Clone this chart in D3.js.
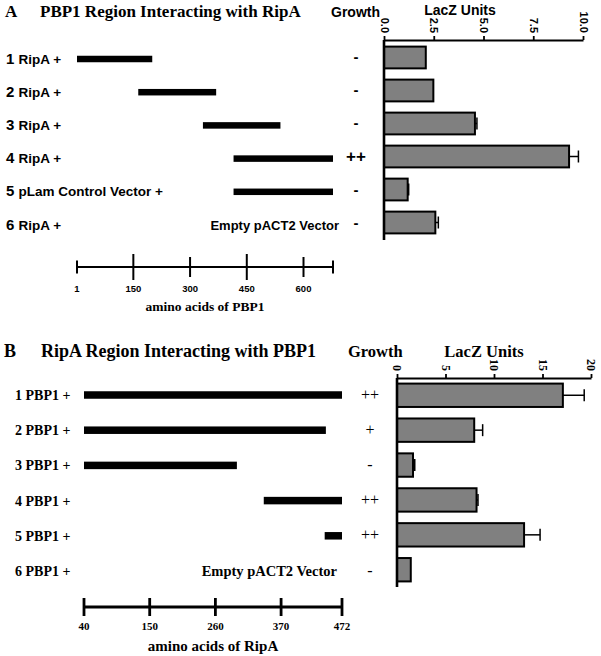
<!DOCTYPE html>
<html><head><meta charset="utf-8">
<script src="https://cdn.jsdelivr.net/npm/d3@7"></script>
<style>body{margin:0;background:#fff}svg{display:block}</style>
</head><body>
<svg id="c" width="601" height="656"></svg>
<script>
// ---- Panel A data ----
const rowNumA = ["1","2","3","4","5","6"];
const rowLabelA = ["RipA +","RipA +","RipA +","RipA +","pLam Control Vector +","RipA +"];
const segStartA = [1,163,334,415,415,null];
const segEndA = [200,369,539,678,678,null];
const growthA = ["-","-","-","++","-","-"];
const lacZA = [2.1,2.48,4.57,9.3,1.19,2.58];
const lacZErrA = [0,0,0.1,0.47,0.05,0.15];
const aaTicksA = [1,150,300,450,600,678];
const aaTickLabelsA = ["1","150","300","450","600",""];
const lacZTicksA = [0,2.5,5,7.5,10];
const lacZTickLabelsA = ["0.0","2.5","5.0","7.5","10.0"];
// ---- Panel B data ----
const rowNumB = ["1","2","3","4","5","6"];
const rowLabelB = ["PBP1 +","PBP1 +","PBP1 +","PBP1 +","PBP1 +","PBP1 +"];
const segStartB = [40,40,40,341,443,null];
const segEndB = [472,445,296,472,472,null];
const growthB = ["++","+","-","++","++","-"];
const lacZB = [17.1,7.96,1.65,8.2,13.1,1.42];
const lacZErrB = [2.2,0.87,0.18,0.15,1.65,0];
const aaTicksB = [40,150,260,370,472];
const lacZTicksB = [0,5,10,15,20];

const svg = d3.select("#c");
const SANS = "'Liberation Sans', Arial, sans-serif";
const SERIF = "'Liberation Serif', 'Times New Roman', serif";

function panel(o){
  const g = svg.append("g");
  // headings
  g.append("text").attr("x",o.letterX).attr("y",o.headY).attr("font-family",SERIF).attr("font-weight","bold").attr("font-size",o.titleSize).text(o.letter);
  g.append("text").attr("x",o.titleX).attr("y",o.headY).attr("font-family",SERIF).attr("font-weight","bold").attr("font-size",o.titleSize).text(o.title);
  g.append("text").attr("x",o.growthX).attr("y",o.headY).attr("font-family",o.headFont).attr("font-weight","bold").attr("font-size",o.headSize).text("Growth");
  g.append("text").attr("x",o.lacZTitleX).attr("y",o.lacZTitleY).attr("text-anchor","middle").attr("font-family",o.headFont).attr("font-weight","bold").attr("font-size",o.headSize).text("LacZ Units");

  const rows = d3.scalePoint().domain(o.rowNum).range(o.rowRange);
  const aa = d3.scaleLinear().domain(o.aaDomain).range(o.aaRange);

  // row labels
  o.rowNum.forEach((n,i)=>{
    const t = g.append("text").attr("x",o.labelX).attr("y",rows(n)+o.labelDy)
      .attr("font-family",o.rowFont).attr("font-weight","bold").attr("font-size",o.rowSize);
    t.append("tspan").attr("font-size",o.numSize).text(n+" ");
    t.append("tspan").text(o.rowLabel[i]);
  });
  // segments
  o.rowNum.forEach((n,i)=>{
    if(o.segStart[i]==null){
      g.append("text").attr("x",o.emptyX).attr("y",rows(n)+o.labelDy).attr("text-anchor","end")
        .attr("font-family",o.rowFont).attr("font-weight","bold").attr("font-size",o.emptySize).text("Empty pACT2 Vector");
      return;
    }
    g.append("rect").attr("x",aa(o.segStart[i])).attr("width",aa(o.segEnd[i])-aa(o.segStart[i]))
      .attr("y",rows(n)-o.segH/2).attr("height",o.segH).attr("fill","#000");
  });
  // growth
  o.rowNum.forEach((n,i)=>{
    g.append("text").attr("x",o.growthMarkX).attr("y",rows(n)+o.growthDy).attr("text-anchor","middle")
      .attr("font-family",o.growthFont).attr("font-weight",o.growthWeight).attr("font-size",o.growth[i]==="-"?o.minusSize:o.plusSize).text(o.growth[i]);
  });
  // amino acid axis
  g.append("line").attr("x1",aa(o.aaDomain[0])).attr("x2",aa(o.aaDomain[1])).attr("y1",o.aaAxisY).attr("y2",o.aaAxisY)
    .attr("stroke","#000").attr("stroke-width",o.aaStroke);
  o.aaTicks.forEach((v,i)=>{
    const h = o.tickLen(v,i);
    g.append("line").attr("x1",aa(v)).attr("x2",aa(v)).attr("y1",o.aaAxisY-h).attr("y2",o.aaAxisY+h)
      .attr("stroke","#000").attr("stroke-width",o.aaStroke);
    g.append("text").attr("x",aa(v)).attr("y",o.aaLabelY).attr("text-anchor","middle")
      .attr("font-family",o.rowFont).attr("font-weight","bold").attr("font-size",o.aaLabelSize).text(o.aaTickLabels[i]);
  });
  g.append("text").attr("x",(o.aaRange[0]+o.aaRange[1])/2).attr("y",o.aaTitleY).attr("text-anchor","middle")
    .attr("font-family",SERIF).attr("font-weight","bold").attr("font-size",o.aaTitleSize).text(o.aaTitle);

  // bar chart
  const x = d3.scaleLinear().domain([0,o.lacZTicks[o.lacZTicks.length-1]]).range(o.barXRange);
  const y = d3.scaleBand().domain(o.rowNum).range(o.barYRange).paddingInner(o.padIn).paddingOuter(o.padOut);
  const ax = g.append("g").attr("transform",`translate(0,${o.barYRange[0]})`)
    .call(d3.axisTop(x).tickValues(o.lacZTicks).tickFormat((d,i)=>o.lacZTickLabels[i]).tickSize(4).tickSizeOuter(0));
  ax.select(".domain").attr("stroke-width",2.2);
  ax.selectAll(".tick line").attr("stroke-width",1.8);
  ax.selectAll(".tick text").attr("transform","rotate(90)").attr("x",-7).attr("y",0).attr("dy","0.35em")
    .attr("text-anchor","end").attr("font-family",o.tickFont).attr("font-weight","bold").attr("font-size",o.tickSize).attr("fill","#000");
  g.selectAll(null).data(o.rowNum).enter().append("rect")
    .attr("x",x(0)).attr("y",d=>y(d)).attr("height",y.bandwidth())
    .attr("width",(d,i)=>x(o.lacZ[i])-x(0))
    .attr("fill","#808080").attr("stroke","#000").attr("stroke-width",2);
  o.rowNum.forEach((n,i)=>{
    if(!o.lacZErr[i]) return;
    const cy = y(n)+y.bandwidth()/2, x1 = x(o.lacZ[i]), x2 = x(o.lacZ[i]+o.lacZErr[i]);
    g.append("line").attr("x1",x1).attr("x2",x2).attr("y1",cy).attr("y2",cy).attr("stroke","#000").attr("stroke-width",1.5);
    g.append("line").attr("x1",x2).attr("x2",x2).attr("y1",cy-6).attr("y2",cy+6).attr("stroke","#000").attr("stroke-width",1.5);
  });
  g.append("line").attr("x1",x(0)).attr("x2",x(0)).attr("y1",o.barYRange[0]).attr("y2",o.barYRange[1])
    .attr("stroke","#000").attr("stroke-width",2.6);
}

panel({
  letter:"A", letterX:5, title:"PBP1 Region Interacting with RipA", titleX:40, headY:17, titleSize:17,
  growthX:331, headFont:SANS, headSize:14, lacZTitleX:460, lacZTitleY:15,
  rowNum:rowNumA, rowLabel:rowLabelA, rowRange:[59,225], labelX:6, labelDy:4.5, rowFont:SANS, rowSize:13.5, numSize:15,
  segStart:segStartA, segEnd:segEndA, segH:6.5, emptyX:339, emptySize:13,
  aaDomain:[1,678], aaRange:[77,333],
  growth:growthA, growthMarkX:356, growthDy:3, growthFont:SANS, growthWeight:"bold", minusSize:15, plusSize:17,
  aaAxisY:267, aaStroke:2, aaTicks:aaTicksA, aaTickLabels:aaTickLabelsA,
  tickLen:(v,i)=> (v===150||v===450)?13:((v===300||v===600)?10:6.5),
  aaLabelY:292, aaLabelSize:9.5, aaTitleY:311, aaTitleSize:13.5, aaTitle:"amino acids of PBP1",
  lacZTicks:lacZTicksA, lacZTickLabels:lacZTickLabelsA, barXRange:[384,583], barYRange:[40,240], padIn:0.34, padOut:0.2,
  lacZ:lacZA, lacZErr:lacZErrA, tickFont:SANS, tickSize:11
});

panel({
  letter:"B", letterX:4, title:"RipA Region Interacting with PBP1", titleX:41, headY:357, titleSize:18,
  growthX:348, headFont:SERIF, headSize:16.5, lacZTitleX:484, lacZTitleY:357,
  rowNum:rowNumB, rowLabel:rowLabelB, rowRange:[395,571], labelX:15, labelDy:5, rowFont:SERIF, rowSize:14, numSize:14,
  segStart:segStartB, segEnd:segEndB, segH:7.5, emptyX:337, emptySize:14.5,
  aaDomain:[40,472], aaRange:[84,342],
  growth:growthB, growthMarkX:370, growthDy:4.5, growthFont:SERIF, growthWeight:"normal", minusSize:16, plusSize:16,
  aaAxisY:607, aaStroke:2.8, aaTicks:aaTicksB, aaTickLabels:aaTicksB.map(String),
  tickLen:()=>9,
  aaLabelY:630, aaLabelSize:11, aaTitleY:651, aaTitleSize:15, aaTitle:"amino acids of RipA",
  lacZTicks:lacZTicksB, lacZTickLabels:lacZTicksB.map(String), barXRange:[397,591], barYRange:[378,587], padIn:0.33, padOut:0.16,
  lacZ:lacZB, lacZErr:lacZErrB, tickFont:SERIF, tickSize:12
});
</script>
</body></html>
